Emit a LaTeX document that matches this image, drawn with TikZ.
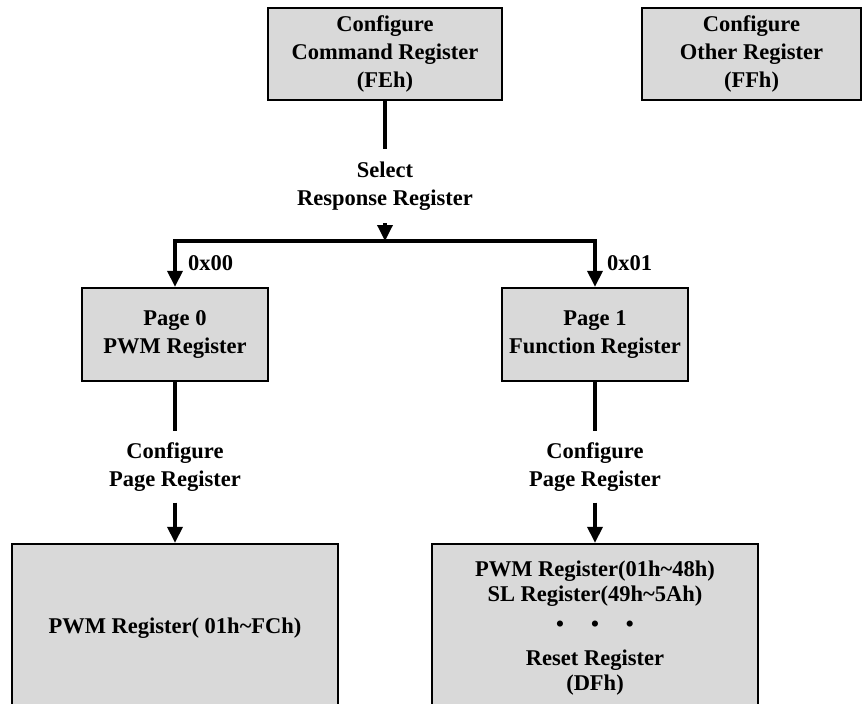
\documentclass[tikz,border=0pt]{standalone}
\usepackage{fontspec}
\setmainfont{Liberation Serif}
\usetikzlibrary{arrows.meta}

\definecolor{boxgray}{RGB}{217,217,217}
\newcommand\regfont{\bfseries\fontsize{22.5}{28}\selectfont}

\begin{document}
\begin{tikzpicture}[x=1pt,y=-1pt,
	regbox/.style={draw=black, line width=2.3pt, fill=boxgray, inner sep=0pt, align=center, font=\regfont},
	note/.style={inner sep=0pt, align=center, font=\regfont},
	link/.style={line width=3.4pt},
	arrow/.style={link, -{Triangle[width=15pt,length=16pt]}}]
	
	\clip (0,0) rectangle (863,704);
	
	%--- Top registers ---
	\node[regbox, minimum width=234pt, minimum height=92pt] (cmd) at (385,54) {Configure\\Command Register\\(FEh)};
	\node[regbox, minimum width=219pt, minimum height=92pt] (other) at (751.5,54) {Configure\\Other Register\\(FFh)};
	
	% select step
	\node[note, inner ysep=13pt] (sel) at (385,186) {Select\\Response Register};
	\coordinate (split) at (385,241);
	
	%--- Pages ---
	\node[regbox, minimum width=186pt, minimum height=93pt] (page0) at (175,334.5) {Page 0\\PWM Register};
	\node[regbox, minimum width=186pt, minimum height=93pt] (page1) at (595,334.5) {Page 1\\Function Register};
	
	\node[note, anchor=west] (sel0) at (188,263) {0x00};
	\node[note, anchor=west] (sel1) at (607,263) {0x01};
	
	% configure page step
	\node[note, inner ysep=11pt] (cfg0) at (175,467) {Configure\\Page Register};
	\node[note, inner ysep=11pt] (cfg1) at (595,467) {Configure\\Page Register};
	
	%--- Register contents (cut at the bottom) ---
	\node[regbox, minimum width=326pt, minimum height=168pt] (pwm0) at (175,628) {PWM Register( 01h\textasciitilde FCh)};
	\node[regbox, minimum width=326pt, minimum height=168pt, font=\bfseries\fontsize{22.5}{25}\selectfont] (fn1) at (595,628)
	{PWM Register(01h\textasciitilde 48h)\\SL Register(49h\textasciitilde 5Ah)\\[5pt]
		\textbullet\hspace{27pt}\textbullet\hspace{27pt}\textbullet\\[9pt]
		Reset Register\\(DFh)};
	
	% connectors
	\draw[link] (cmd) -- (sel);
	\draw[arrow] (sel) -- (split);
	\draw[arrow] (split) -| (page0);
	\draw[arrow] (split) -| (page1);
	
	\draw[link] (page0) -- (cfg0);
	\draw[arrow] (cfg0) -- (pwm0);
	\draw[link] (page1) -- (cfg1);
	\draw[arrow] (cfg1) -- (fn1);
	
\end{tikzpicture}
\end{document}
